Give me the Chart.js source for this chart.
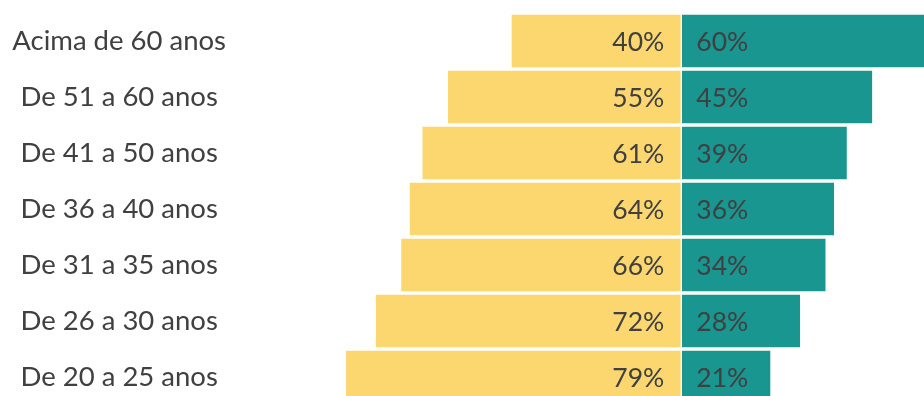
<!DOCTYPE html>
<html>
<head>
<meta charset="utf-8">
<script src="https://cdn.jsdelivr.net/npm/chart.js@4/dist/chart.umd.min.js"></script>
<style>
  html, body { margin: 0; padding: 0; background: #ffffff; overflow: hidden; }
  #wrap { position: relative; width: 924px; height: 410px; }
</style>
</head>
<body>
<div id="wrap"><canvas id="chart"></canvas></div>
<script>
// Age groups, top to bottom
const faixas = [
  'Acima de 60 anos',
  'De 51 a 60 anos',
  'De 41 a 50 anos',
  'De 36 a 40 anos',
  'De 31 a 35 anos',
  'De 26 a 30 anos',
  'De 20 a 25 anos'
];
// Share (%) drawn to the left, in yellow
const ladoAmarelo = [40, 55, 61, 64, 66, 72, 79];
// Share (%) drawn to the right, in teal
const ladoVerde = [60, 45, 39, 36, 34, 28, 21];

const FONT = 'Lato, "Liberation Sans", sans-serif';
const TEXT = '#404040';

// Writes the percentage of each bar next to the centre line
const rotulos = {
  id: 'rotulos',
  afterDatasetsDraw(chart) {
    const ctx = chart.ctx;
    ctx.save();
    ctx.font = '26.5px ' + FONT;
    ctx.fillStyle = TEXT;
    ctx.textBaseline = 'middle';
    chart.data.datasets.forEach((ds, di) => {
      const meta = chart.getDatasetMeta(di);
      meta.data.forEach((bar, i) => {
        const txt = Math.abs(ds.data[i]) + '%';
        if (ds.data[i] < 0) {
          ctx.textAlign = 'right';
          ctx.fillText(txt, bar.base - 17, bar.y + 1);
        } else {
          ctx.textAlign = 'left';
          ctx.fillText(txt, bar.base + 15, bar.y + 1);
        }
      });
    });
    ctx.restore();
  }
};

new Chart(document.getElementById('chart'), {
  type: 'bar',
  data: {
    labels: faixas,
    datasets: [
      {
        data: ladoAmarelo.map(v => -v),
        backgroundColor: '#FCD66F',
        borderColor: '#ffffff',
        borderWidth: { top: 2, bottom: 2, left: 0, right: 1 },
        borderSkipped: false,
        barThickness: 56
      },
      {
        data: ladoVerde,
        backgroundColor: '#18968F',
        borderColor: '#ffffff',
        borderWidth: { top: 2, bottom: 2, left: 1, right: 0 },
        borderSkipped: false,
        barThickness: 56
      }
    ]
  },
  options: {
    indexAxis: 'y',
    responsive: true,
    maintainAspectRatio: false,
    animation: false,
    layout: { padding: { top: 13, bottom: 5, left: 0, right: 0 } },
    plugins: {
      legend: { display: false },
      tooltip: { enabled: false }
    },
    scales: {
      x: {
        stacked: true,
        display: false,
        min: -104,
        max: 57.2
      },
      y: {
        stacked: true,
        grid: { display: false },
        border: { display: false },
        ticks: {
          color: TEXT,
          font: { family: FONT, size: 27.5 },
          crossAlign: 'center',
          padding: 6
        },
        afterFit(scale) {
          scale.width = 240;
          scale.paddingTop = 0;
          scale.paddingBottom = 0;
        }
      }
    }
  },
  plugins: [rotulos]
});
</script>
</body>
</html>
